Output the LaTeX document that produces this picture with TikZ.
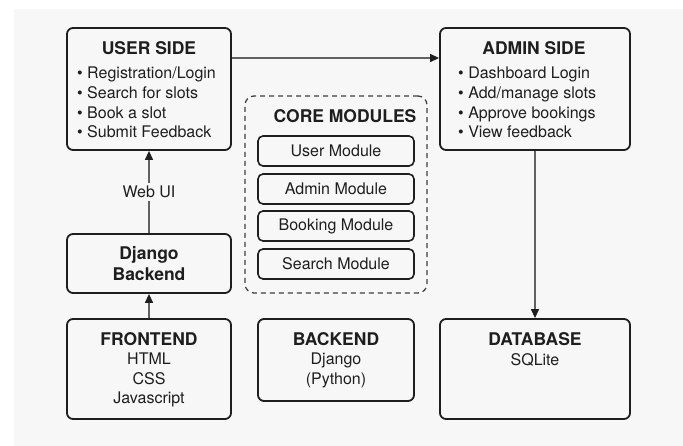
\documentclass[tikz,border=0pt]{standalone}
\usepackage{fontspec}
\setmainfont{TeX Gyre Heros}
\usetikzlibrary{arrows.meta, positioning}
\definecolor{paper}{HTML}{F7F7F7}
\definecolor{ink}{HTML}{1E1E1E}

\begin{document}
\begin{tikzpicture}[x=1pt, y=-1pt,
    box/.style={draw=ink, line width=1.8pt, rounded corners=6pt, fill=paper, inner sep=0pt},
    module/.style={draw=ink, line width=1.6pt, rounded corners=5pt, minimum width=156pt, minimum height=30pt, font=\fontsize{16}{19}\selectfont, text=ink},
    group/.style={draw=ink!85, line width=1.3pt, dashed, dash pattern=on 5pt off 4pt, rounded corners=9pt, inner sep=0pt},
    head/.style={font=\fontsize{17.5}{21}\selectfont\bfseries, text=ink, anchor=base, inner sep=0pt},
    body/.style={font=\fontsize{16}{19.6}\selectfont, text=ink, align=left, anchor=north west, inner sep=0pt},
    info/.style={font=\fontsize{16}{19.2}\selectfont, text=ink, align=center, anchor=north, inner sep=0pt},
    flow/.style={-{Triangle[length=9pt, width=8pt, color=ink]}, line width=1.3pt, draw=ink!70}
]
\useasboundingbox (0,0) rectangle (683,446);
\fill[white] (0,0) rectangle (683,446);
\fill[paper] (14,9) rectangle (683,446);

% top row
\node[box, minimum width=164pt, minimum height=122pt] (user) at (149,89) {};
\node[head] (userT) at (149,55) {USER SIDE};
\node[body] (userL) at (77,67) {• Registration/Login\\• Search for slots\\• Book a slot\\• Submit Feedback};

\node[box, minimum width=190pt, minimum height=122pt] (admin) at (535,89) {};
\node[head] (adminT) at (534,55) {ADMIN SIDE};
\node[body] (adminL) at (458,67) {• Dashboard Login\\• Add/manage slots\\• Approve bookings\\• View feedback};

% core modules
\node[group, minimum width=182pt, minimum height=197pt] (core) at (336,194.5) {};
\node[head] (coreT) at (345,123) {CORE MODULES};
\node[module] (m1) at (336,151) {User Module};
\node[module] (m2) at (336,189) {Admin Module};
\node[module] (m3) at (336,226) {Booking Module};
\node[module] (m4) at (336,264) {Search Module};

% left column
\node[box, minimum width=164pt, minimum height=59pt, font=\fontsize{17.5}{21}\selectfont\bfseries, text=ink, align=center] (django) at (149,263.5) {Django\\Backend};

% bottom row
\node[box, minimum width=164pt, minimum height=100pt] (frontend) at (149,369) {};
\node[head] (frontendT) at (149,346) {FRONTEND};
\node[info] (frontendL) at (149,353) {HTML\\CSS\\Javascript};

\node[box, minimum width=156pt, minimum height=82pt] (backend) at (336,360) {};
\node[head] (backendT) at (336,346) {BACKEND};
\node[info] (backendL) at (336,353) {Django\\(Python)};

\node[box, minimum width=190pt, minimum height=100pt] (database) at (535,369) {};
\node[head] (databaseT) at (535,346) {DATABASE};
\node[info] (databaseL) at (535,353) {SQLite};

% connectors
\draw[flow] ([yshift=31pt]user.east) -- ([yshift=31pt]admin.west);
\draw[flow] (django.north) -- node[fill=paper, inner sep=3pt, font=\fontsize{16}{19}\selectfont, text=ink] (webui) {Web UI} (user.south);
\draw[flow] (frontend.north) -- (django.south);
\draw[flow] (admin.south) -- (database.north);
\end{tikzpicture}
\end{document}
